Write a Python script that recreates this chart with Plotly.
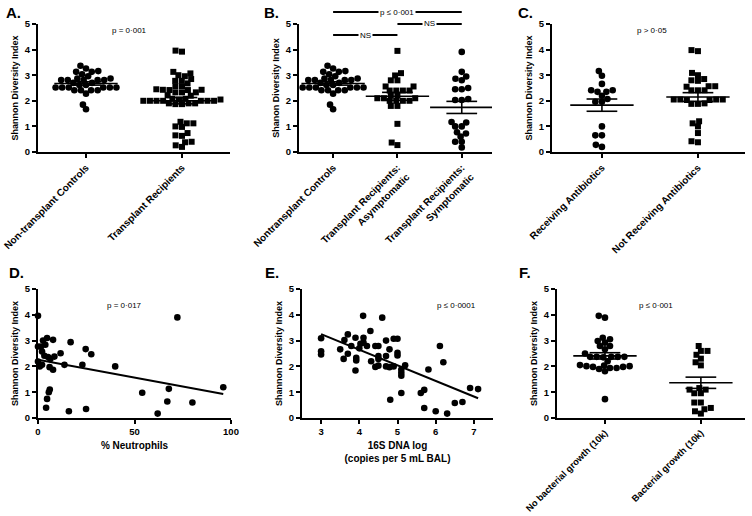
import numpy as np
import plotly.graph_objects as go

FONT = "Liberation Sans, Arial, sans-serif"
W, H = 752, 516

# ---------------- data ----------------
# Panel A
a_cats = ["Non-transplant Controls", "Transplant Recipients"]
controls = [3.37, 3.26, 3.13, 3.16, 3.13, 3.04, 2.96, 2.87, 2.87, 2.81, 2.81, 2.81, 2.81, 2.81,
            2.70, 2.70, 2.62, 2.62, 2.52, 2.52, 2.52, 2.52, 2.52, 2.52, 2.41, 2.41, 2.41, 2.41,
            2.28, 1.85, 1.67]
transplant = [3.92, 3.96, 3.13, 3.0, 3.07, 2.85, 2.96, 2.78, 2.68, 2.78, 2.57, 2.57, 2.42, 2.42,
              2.45, 2.43, 2.43, 2.33, 2.33, 2.33, 2.22, 2.2, 2.08, 2.08, 2.05, 2.05, 2.0, 2.0,
              2.0, 2.0, 2.0, 2.0, 2.0, 1.9, 1.9, 1.9, 1.87, 1.87, 1.18, 1.12, 1.12, 1.0, 0.98,
              0.74, 0.65, 0.63, 0.38, 0.4, 0.2, 0.26]
a_p = "p = 0·001"

# Panel B
b_cats = ["Nontransplant Controls", "Transplant Recipients:<br>Asymptomatic",
          "Transplant Recipients:<br>Symptomatic"]
asymptomatic = [3.95, 3.08, 2.99, 2.8, 2.8, 2.56, 2.56, 2.4, 2.4, 2.4, 2.4, 2.2, 2.2, 2.1, 2.1,
                2.1, 2.0, 2.0, 2.0, 2.0, 1.8, 1.8, 1.1, 0.37, 0.27]
symptomatic = [3.91, 3.13, 2.95, 2.86, 2.8, 2.5, 2.45, 2.45, 2.07, 2.03, 2.03, 1.15, 1.17, 1.0,
               1.0, 0.77, 0.72, 0.6, 0.4, 0.4, 0.18]
b_p = "p ≤ 0·001"
b_ns = "NS"

# Panel C
c_cats = ["Receiving Antibiotics", "Not Receiving Antibiotics"]
abx = [3.16, 2.98, 2.66, 2.41, 2.41, 2.35, 2.35, 2.2, 2.07, 1.96, 1.96, 1.0, 0.65, 0.65, 0.28, 0.2]
no_abx = [3.98, 3.94, 3.09, 3.0, 2.85, 2.8, 2.78, 2.57, 2.55, 2.57, 2.41, 2.41, 2.41, 2.05, 2.05,
          2.03, 2.05, 2.03, 2.05, 1.88, 1.88, 1.9, 1.2, 1.12, 1.0, 0.74, 0.38, 0.42]
c_p = "p > 0·05"

# Panel D
neut_pct = [0, 72.2, 4.7, 7.8, 2.6, 0, 1.6, 3.8, 16.9, 11.7, 8.5, 24.7, 27.6, 2.1, 3.3, 5.2, 6.4,
            0, 13.7, 23, 40, 0.9, 2.1, 6, 7.8, 54, 67.8, 96, 5.6, 6.1, 4.7, 4.2, 16, 24.9, 67, 80, 62]
neut_div = [3.96, 3.9, 3.1, 3.03, 3.0, 2.77, 2.77, 2.84, 2.94, 2.51, 2.38, 2.67, 2.47, 2.58, 2.41,
            2.36, 2.29, 2.19, 2.06, 2.06, 2.0, 2.0, 2.06, 1.97, 1.87, 0.98, 1.13, 1.19, 1.0, 1.1,
            0.74, 0.4, 0.26, 0.35, 0.64, 0.6, 0.17]
d_p = "p = 0·017"

# Panel E
dna_log = [3.0, 3.0, 3.0, 3.5, 3.61, 3.7, 3.59, 3.7, 3.79, 3.9, 3.92, 3.92, 3.9, 4.0, 4.03, 4.1,
           4.11, 4.11, 4.2, 4.29, 4.31, 4.42, 4.5, 4.42, 4.5, 4.5, 4.5, 4.6, 4.7, 4.7, 4.7, 4.79,
           4.79, 4.9, 5.0, 5.0, 5.0, 4.9, 5.1, 5.1, 5.1, 5.2, 5.81, 6.11, 6.2, 6.9, 7.11, 4.81,
           5.1, 5.61, 5.7, 5.7, 6.0, 6.3, 6.5, 6.7]
dna_div = [3.09, 2.59, 2.46, 2.66, 3.02, 3.24, 2.29, 2.49, 2.79, 3.11, 2.33, 2.23, 1.84, 2.7, 2.88,
           3.96, 3.11, 2.92, 2.79, 3.37, 2.2, 2.79, 2.79, 1.98, 2.03, 2.4, 2.29, 3.89, 3.0, 2.4,
           2.0, 2.66, 1.97, 3.07, 3.07, 2.53, 2.42, 2.0, 1.88, 1.75, 1.64, 2.04, 1.88, 2.79, 2.16,
           1.16, 1.12, 0.71, 0.97, 0.97, 1.09, 0.39, 0.26, 0.17, 0.58, 0.62]
e_p = "p ≤ 0·0001"

# Panel F
f_cats = ["No bacterial growth (10k)", "Bacterial growth (10k)"]
no_growth = [3.96, 3.89, 3.11, 2.98, 3.05, 2.92, 2.79, 2.79, 2.66, 2.5, 2.37, 2.37, 2.37, 2.35,
             2.37, 2.37, 2.2, 2.03, 2.01, 1.98, 1.94, 1.9, 1.81, 1.94, 1.98, 2.01, 2.05, 0.73]
growth = [2.79, 2.6, 2.6, 2.3, 2.16, 2.04, 2.45, 1.16, 1.1, 0.96, 0.96, 1.1, 0.6, 0.6, 0.34,
          0.39, 0.17, 0.26]
f_p = "p ≤ 0·001"

y_title = "Shannon Diversity Index"
y_title_b = "Shanon Diversity Index"

# ---------------- geometry ----------------
def dx(a, b):
    return [a / W, b / W]

def dy(top, bottom):
    return [1 - bottom / H, 1 - top / H]

P = {
    "A": dict(n="", xd=dx(38, 230), yd=dy(24, 152), xr=[-0.5, 1.5]),
    "B": dict(n="2", xd=dx(299, 492), yd=dy(24, 152), xr=[-0.53, 2.47]),
    "C": dict(n="3", xd=dx(552, 745), yd=dy(24, 152), xr=[-0.52, 1.49]),
    "D": dict(n="4", xd=dx(38, 231), yd=dy(289, 418), xr=[0, 100]),
    "E": dict(n="5", xd=dx(302, 493), yd=dy(289, 418), xr=[2.5, 7.5]),
    "F": dict(n="6", xd=dx(557, 745), yd=dy(289, 418), xr=[-0.5, 1.46]),
}

fig = go.Figure()


def swarm(values, ppx, ppy, sx=6.6, sy=5.2):
    """Greedy beeswarm with an elliptical footprint (rows may interleave)."""
    vals = np.asarray(values, float)
    order = np.argsort(vals, kind="stable")
    placed = []
    offs = np.zeros(len(vals))
    for i in order:
        y = vals[i] * ppy
        cands = [0.0]
        for xp, yp in placed:
            r = abs(y - yp) / sy
            if r < 1:
                ddx = sx * np.sqrt(1 - r * r)
                cands += [xp + ddx, xp - ddx]
        cands.sort(key=lambda c: (abs(c), c))
        for c in cands:
            if all(((c - xp) / sx) ** 2 + ((y - yp) / sy) ** 2 >= 1 - 1e-6 for xp, yp in placed):
                offs[i] = c
                placed.append((c, y))
                break
    return offs / ppx


def scale(p):
    ppx = (p["xd"][1] - p["xd"][0]) * W / (p["xr"][1] - p["xr"][0])
    ppy = (p["yd"][1] - p["yd"][0]) * H / 5.0
    return ppx, ppy


def add_group(key, idx, vals, symbol):
    p = P[key]
    ppx, ppy = scale(p)
    offs = swarm(vals, ppx, ppy)
    xa, ya = "x" + p["n"], "y" + p["n"]
    fig.add_trace(go.Scatter(
        x=idx + offs, y=vals, mode="markers", xaxis=xa, yaxis=ya, cliponaxis=False,
        marker=dict(symbol=symbol, size=6.6 if symbol == "circle" else 6.0, color="black",
                    line=dict(width=0)),
        showlegend=False, hoverinfo="skip"))
    v = np.asarray(vals, float)
    m = v.mean()
    s = v.std(ddof=1) / np.sqrt(len(v))
    hw, cw = 0.33 * 96 / ppx, 0.16 * 96 / ppx
    xs = [idx - hw, idx + hw, None, idx - cw, idx + cw, None, idx - cw, idx + cw, None, idx, idx]
    ys = [m, m, None, m + s, m + s, None, m - s, m - s, None, m - s, m + s]
    fig.add_trace(go.Scatter(x=xs, y=ys, mode="lines", xaxis=xa, yaxis=ya,
                             line=dict(color="black", width=1.6),
                             showlegend=False, hoverinfo="skip"))


def add_xy(key, xv, yv):
    p = P[key]
    xa, ya = "x" + p["n"], "y" + p["n"]
    fig.add_trace(go.Scatter(x=xv, y=yv, mode="markers", xaxis=xa, yaxis=ya, cliponaxis=False,
                             marker=dict(symbol="circle", size=6.6, color="black"),
                             showlegend=False, hoverinfo="skip"))
    k, b = np.polyfit(xv, yv, 1)
    x0, x1 = min(xv), max(xv)
    fig.add_trace(go.Scatter(x=[x0, x1], y=[k * x0 + b, k * x1 + b], mode="lines",
                             xaxis=xa, yaxis=ya, line=dict(color="black", width=2),
                             showlegend=False, hoverinfo="skip"))


add_group("A", 0, controls, "circle")
add_group("A", 1, transplant, "square")
add_group("B", 0, controls, "circle")
add_group("B", 1, asymptomatic, "square")
add_group("B", 2, symptomatic, "circle")
add_group("C", 0, abx, "circle")
add_group("C", 1, no_abx, "square")
add_xy("D", neut_pct, neut_div)
add_xy("E", dna_log, dna_div)
add_group("F", 0, no_growth, "circle")
add_group("F", 1, growth, "square")

# ---------------- axes ----------------
tickfont = dict(family=FONT, size=9.5, color="black", weight="bold")
catfont = dict(family=FONT, size=10, color="black", weight="bold")
catfont_f = dict(family=FONT, size=9.3, color="black", weight="bold")
titlefont = dict(family=FONT, size=9, color="black", weight="bold")
common = dict(showline=True, linecolor="black", linewidth=2, ticks="outside", tickcolor="black",
              tickwidth=2, ticklen=4, showgrid=False, zeroline=False, tickfont=tickfont,
              fixedrange=True, automargin=False)

cats = {"A": a_cats, "B": b_cats, "C": c_cats, "F": f_cats}
layout = {}
for key, p in P.items():
    n = p["n"]
    xa = dict(common, domain=p["xd"], range=p["xr"], anchor="y" + n)
    if key in cats:
        xa.update(tickmode="array", tickvals=list(range(len(cats[key]))), ticktext=cats[key],
                  tickangle=-45, tickfont=catfont_f if key == "F" else catfont)
    elif key == "D":
        xa.update(tickmode="array", tickvals=[0, 50, 100],
                  title=dict(text="% Neutrophils", font=dict(titlefont, size=10), standoff=6))
    else:
        xa.update(tickmode="array", tickvals=[3, 4, 5, 6, 7],
                  title=dict(text="16S DNA log<br>(copies per 5 mL BAL)",
                             font=dict(titlefont, size=10), standoff=6))
    ya = dict(common, domain=p["yd"], range=[0, 5], anchor="x" + n,
              tickmode="array", tickvals=[0, 1, 2, 3, 4, 5],
              title=dict(text=y_title_b if key == "B" else y_title, font=titlefont, standoff=5))
    layout["xaxis" + n] = xa
    layout["yaxis" + n] = ya

fig.update_layout(**layout)

# ---------------- annotations ----------------
ann = []
letters = [("A.", 4, 12), ("B.", 262, 12), ("C.", 516, 12),
           ("D.", 7, 272), ("E.", 263, 272), ("F.", 517, 272)]
for t, xp, yp in letters:
    ann.append(dict(text=t, x=xp / W, y=1 - yp / H, xref="paper", yref="paper",
                    xanchor="left", yanchor="middle", showarrow=False,
                    font=dict(family=FONT, size=15, color="black", weight="bold")))

pfont = dict(family=FONT, size=8, color="black")
for key, txt, xv, yv in [("A", a_p, 0.45, 4.73), ("C", c_p, 0.52, 4.73),
                         ("D", d_p, 45, 4.38), ("E", e_p, 6.55, 4.38), ("F", f_p, 0.53, 4.38)]:
    n = P[key]["n"]
    ann.append(dict(text=txt, x=xv, y=yv, xref="x" + n, yref="y" + n, showarrow=False,
                    font=pfont, xanchor="center", yanchor="middle"))

# comparison brackets in panel B
shapes = []
for (c0, c1, yp, txt) in [(0, 2, 12, b_p), (1, 2, 24, b_ns), (0, 1, 35, b_ns)]:
    yy = 1 - yp / H
    shapes.append(dict(type="line", xref="x2", yref="paper", x0=c0, x1=c1, y0=yy, y1=yy,
                       line=dict(color="black", width=2)))
    ann.append(dict(text=txt, x=(c0 + c1) / 2, y=yy, xref="x2", yref="paper", showarrow=False,
                    font=pfont, bgcolor="white", xanchor="center", yanchor="middle",
                    borderpad=1))

fig.update_layout(
    width=W, height=H, margin=dict(l=0, r=0, t=0, b=0),
    paper_bgcolor="white", plot_bgcolor="white",
    annotations=ann, shapes=shapes, showlegend=False,
    font=dict(family=FONT, color="black"),
)

fig.write_html("out.html", config={"displayModeBar": False},
               post_script="document.body.style.margin='0';")
